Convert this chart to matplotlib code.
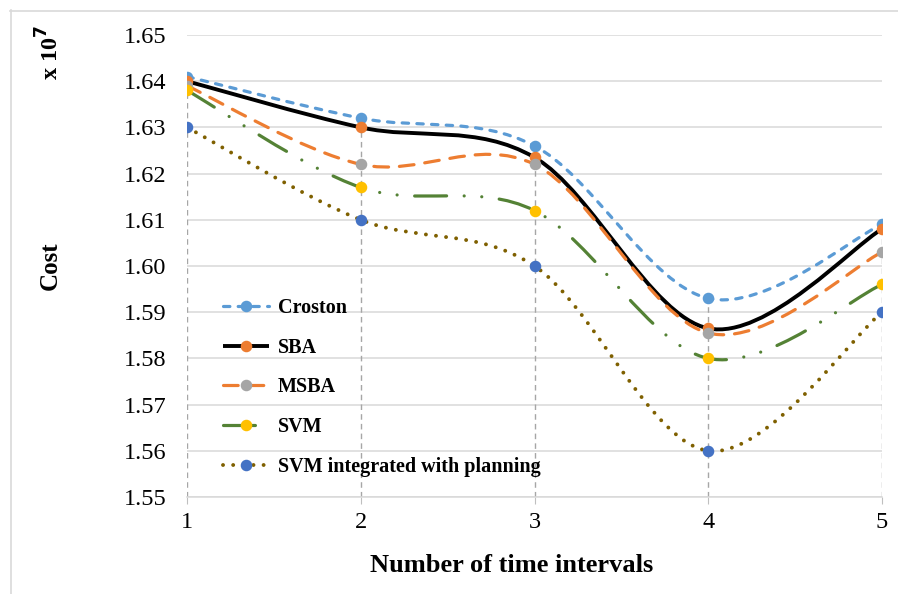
import numpy as np
import matplotlib
matplotlib.use("Agg")
import matplotlib.pyplot as plt
from matplotlib.path import Path
from matplotlib.patches import PathPatch
from matplotlib.lines import Line2D

plt.rcParams["font.family"] = ["Liberation Serif", "DejaVu Serif"]

# data (cost, x 10^7)
intervals = [1, 2, 3, 4, 5]
croston = [1.641, 1.632, 1.626, 1.593, 1.609]
sba = [1.640, 1.630, 1.6235, 1.5865, 1.608]
msba = [1.639, 1.622, 1.622, 1.5855, 1.603]
svm = [1.638, 1.617, 1.612, 1.580, 1.596]
svm_plan = [1.630, 1.610, 1.600, 1.560, 1.590]

names = ["Croston", "SBA", "MSBA", "SVM", "SVM integrated with planning"]
series = [croston, sba, msba, svm, svm_plan]
line_colors = ["#5B9BD5", "#000000", "#ED7D31", "#548235", "#7F6000"]
marker_colors = ["#5B9BD5", "#ED7D31", "#A5A5A5", "#FFC000", "#4472C4"]
widths = [2.3, 2.8, 2.3, 2.3, 2.8]
dashes = [(2.0, 2.6), None, (4.6, 3.4), (10, 5.5, 0.01, 5.5, 0.01, 5.5), (0.01, 2.6)]


def smooth_path(xs, ys):
    # Excel-style smoothed line as cubic Bezier segments
    pts = np.column_stack([xs, ys]).astype(float)
    ext = np.vstack([pts[0], pts, pts[-1]])
    verts = [pts[0]]
    codes = [Path.MOVETO]
    for i in range(len(pts) - 1):
        p0, p1, p2, p3 = ext[i], ext[i + 1], ext[i + 2], ext[i + 3]
        verts += [p1 + (p2 - p0) / 6, p2 - (p3 - p1) / 6, p2]
        codes += [Path.CURVE4] * 3
    return Path(verts, codes)


fig = plt.figure(figsize=(8.98, 5.94), dpi=100, facecolor="white")
ax = fig.add_axes([187 / 898, 1 - 497 / 594, 695 / 898, 462 / 594])

# outer chart border (top and left visible)
fig.add_artist(Line2D([10 / 898, 1], [1 - 10.5 / 594] * 2, color="#D9D9D9", lw=1.2))
fig.add_artist(Line2D([10.5 / 898] * 2, [0, 1 - 10 / 594], color="#D9D9D9", lw=1.2))

ax.set_xlim(1, 5)
ax.set_ylim(1.55, 1.65)
ax.set_yticks(np.arange(1.55, 1.651, 0.01))
ax.set_yticklabels(["%.2f" % v for v in np.arange(1.55, 1.651, 0.01)])
ax.set_xticks(intervals)
ax.grid(axis="y", color="#D9D9D9", lw=1.1)
ax.set_axisbelow(True)
for s in ["top", "right", "left"]:
    ax.spines[s].set_visible(False)
ax.spines["bottom"].set_color("#D9D9D9")
ax.spines["bottom"].set_linewidth(1.1)
ax.tick_params(axis="y", length=0, pad=15, labelsize=17.5)
ax.tick_params(axis="x", length=5, color="#BFBFBF", pad=6, labelsize=17.5)

# drop lines
tops = np.max(np.array(series), axis=0)
ax.vlines(intervals, 1.55, tops, colors="#A6A6A6", lw=1, linestyles=(0, (4, 3)), zorder=2)

handles = []
for i in range(len(series)):
    p = smooth_path(intervals, series[i])
    patch = PathPatch(p, fill=False, edgecolor=line_colors[i], lw=widths[i],
                      capstyle="round" if dashes[i] else "butt", zorder=3 + i * 0.1)
    if dashes[i]:
        patch.set_linestyle((0, dashes[i]))
    ax.add_patch(patch)
    ax.plot(intervals, series[i], linestyle="none", marker="o", markersize=7.3,
            color=marker_colors[i], zorder=5)
    h = Line2D([], [], color=line_colors[i], lw=widths[i], marker="o", markersize=7.3,
               markerfacecolor=marker_colors[i], markeredgecolor=marker_colors[i],
               dash_capstyle="round", solid_capstyle="butt")
    if dashes[i]:
        h.set_linestyle((0, dashes[i]))
    handles.append(h)

leg = ax.legend(handles, names, loc="lower left", bbox_to_anchor=(0.025, 0.005),
                frameon=False, prop={"weight": "bold", "size": 14.5},
                handlelength=2.3, labelspacing=0.97, handletextpad=0.45)

fig.text(512 / 898, 1 - 566 / 594, "Number of time intervals", ha="center", va="center",
         fontsize=19, fontweight="bold")
fig.text(50 / 898, 1 - 266 / 594, "Cost", rotation=90, ha="center", va="center",
         fontsize=18, fontweight="bold")
fig.text(50 / 898, 1 - 52 / 594, r"x 10$^{\mathbf{7}}$", rotation=90, ha="center",
         va="center", fontsize=17.5, fontweight="bold")

plt.savefig("out.png", dpi=100)
